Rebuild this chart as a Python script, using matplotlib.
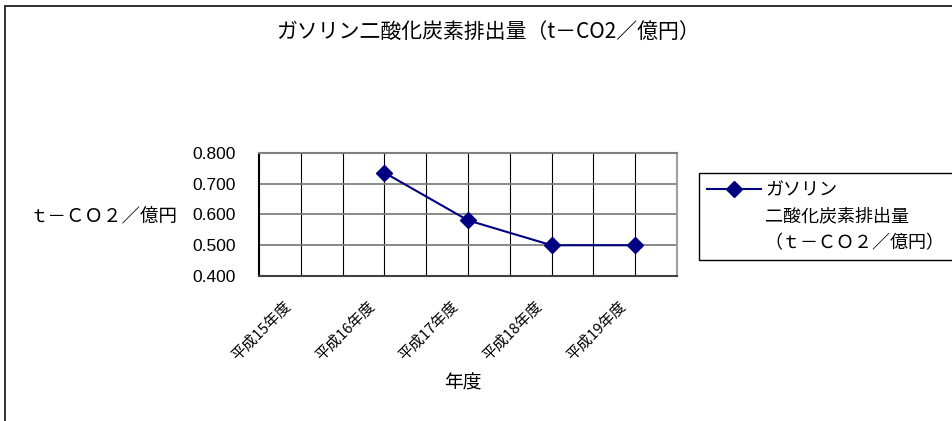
import matplotlib
matplotlib.use("Agg")
import matplotlib.pyplot as plt
import matplotlib.patches as mpatches
from matplotlib.lines import Line2D
from matplotlib.transforms import ScaledTranslation
import numpy as np

plt.rcParams['font.family'] = ['Noto Sans CJK JP', 'DejaVu Sans']

# data
years = ['平成15年度', '平成16年度', '平成17年度', '平成18年度', '平成19年度']
gasoline_co2 = [np.nan, 0.736, 0.581, 0.500, 0.500]
y_ticks = [0.4, 0.5, 0.6, 0.7, 0.8]

title_text = 'ガソリン二酸化炭素排出量（t－CO2／億円）'
y_label = 'ｔ－ＣＯ２／億円'
x_label = '年度'
legend_lines = ['ガソリン', '二酸化炭素排出量', '（ｔ－ＣＯ２／億円）']

W, H = 952, 421
fig = plt.figure(figsize=(W / 100, H / 100), dpi=100)
fig.patch.set_facecolor('white')

# outer chart frame (top and left edges visible)
frame = mpatches.Rectangle((5 / W, -0.1), 1.2, 1.1 - 6.5 / H,
                           transform=fig.transFigure, fill=False,
                           edgecolor='#222222', linewidth=1.3, clip_on=False)
fig.patches.append(frame)

left, right, top, bottom = 259, 677, 153, 276
ax = fig.add_axes([left / W, 1 - bottom / H, (right - left) / W, (bottom - top) / H])

x = np.arange(len(years))
ax.set_xlim(-0.5, len(years) - 0.5)
ax.set_ylim(0.4, 0.8)

# grid: category centres and boundaries, value steps
for gx in np.arange(-0.5, len(years), 0.5)[1:-1]:
    ax.axvline(gx, color='black', linewidth=0.8, zorder=1)
for gy in y_ticks[1:-1]:
    ax.axhline(gy, color='#808080', linewidth=1.3, zorder=1)

line, = ax.plot(x, gasoline_co2, color='#000080', linewidth=1.5, marker='D',
                markersize=8, markerfacecolor='#000080',
                markeredgecolor='#000080', zorder=3)

# spines
ax.spines['left'].set_color('black')
ax.spines['left'].set_linewidth(1.5)
ax.spines['bottom'].set_color('#404040')
ax.spines['bottom'].set_linewidth(1.5)
ax.spines['top'].set_color('#808080')
ax.spines['top'].set_linewidth(1.5)
ax.spines['right'].set_color('#a0a0a0')
ax.spines['right'].set_linewidth(1.5)

ax.set_yticks(y_ticks)
ax.set_yticklabels([f'{v:.3f}' for v in y_ticks])
for lab in ax.get_yticklabels():
    lab.set_fontfamily(['Liberation Sans', 'DejaVu Sans'])
    lab.set_fontsize(12.5)
ax.tick_params(axis='y', length=0, pad=17)

ax.set_xticks(x)
ax.set_xticklabels(years, rotation=45, ha='right', va='center',
                   rotation_mode='anchor', fontsize=10.8)
ax.tick_params(axis='x', length=0, pad=0)
off = ScaledTranslation(-12 / 100, -28 / 100, fig.dpi_scale_trans)
for lab in ax.get_xticklabels():
    lab.set_transform(lab.get_transform() + off)

# titles
fig.text(488 / W, 1 - 32 / H, title_text, ha='center', va='center', fontsize=15)
fig.text(104 / W, 1 - 216 / H, y_label, ha='center', va='center', fontsize=13.3)
fig.text(463 / W, 1 - 383 / H, x_label, ha='center', va='center', fontsize=13.5)

# legend: the series handle sits on the first line of its label
blank = Line2D([], [], linestyle='none', marker=None)
leg = ax.legend([line, blank, blank], legend_lines,
                loc='upper left', bbox_to_anchor=(699 / W, 1 - 173 / H),
                bbox_transform=fig.transFigure, frameon=True, fancybox=False,
                edgecolor='black', borderaxespad=0, fontsize=13,
                handlelength=3.0, handletextpad=0.2, borderpad=0.45,
                labelspacing=0.47, framealpha=1)
leg.get_frame().set_linewidth(1.0)

fig.savefig('out.png', dpi=100)
